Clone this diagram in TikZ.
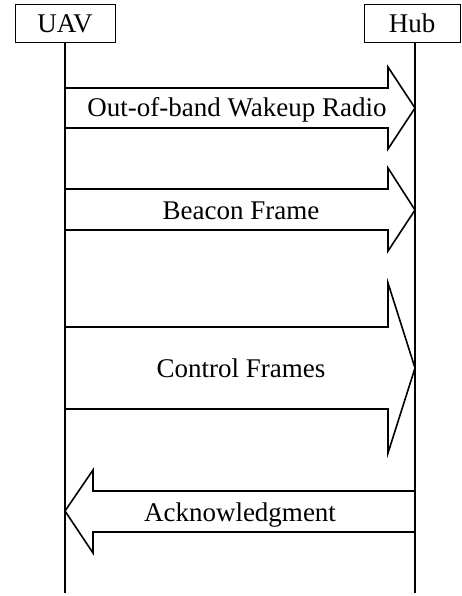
\documentclass[tikz,border=0pt]{standalone}
\usepackage{fontspec}
\setmainfont{Liberation Serif}
\begin{document}
\begin{tikzpicture}[x=1pt,y=-1pt,
  actor/.style={draw, line width=1pt, minimum width=100pt, minimum height=38pt, inner sep=0pt, text height=18pt, text depth=0pt, font=\fontsize{27}{32}\selectfont},
  life/.style={line width=2pt},
  bigarrow/.style={draw, line width=1.6pt, line join=miter},
  lbl/.style={font=\fontsize{27}{32}\selectfont, inner sep=0pt, text height=18pt, text depth=6pt}]
\useasboundingbox (0,0) rectangle (461,596);
\node[actor] (uav) at (65,24) {UAV};
\node[actor, minimum width=96pt] (hub) at (412,24) {Hub};
\coordinate (uavend) at (65,593);
\coordinate (hubend) at (415,593);
\draw[life] (uav.south) -- (uavend);
\draw[life] (hub.south -| hubend) -- (hubend);
% arrow 1
\draw[bigarrow] (65,88) -- (388,88) -- (388,67) -- (415,108) -- (388,149) -- (388,128) -- (65,128);
\node[lbl] (t1) at (237,111) {Out-of-band Wakeup Radio};
% arrow 2
\draw[bigarrow] (65,189) -- (388,189) -- (388,168) -- (415,210) -- (388,251) -- (388,230) -- (65,230);
\node[lbl] (t2) at (241,213) {Beacon Frame};
% arrow 3
\draw[bigarrow] (65,327) -- (388,327) -- (388,283) -- (415,368) -- (388,453) -- (388,409) -- (65,409);
\node[lbl] (t3) at (241,371) {Control Frames};
% arrow 4
\draw[bigarrow] (415,491) -- (93,491) -- (93,470) -- (65,511) -- (93,553) -- (93,532) -- (415,532);
\node[lbl] (t4) at (240,515) {Acknowledgment};
\end{tikzpicture}
\end{document}
